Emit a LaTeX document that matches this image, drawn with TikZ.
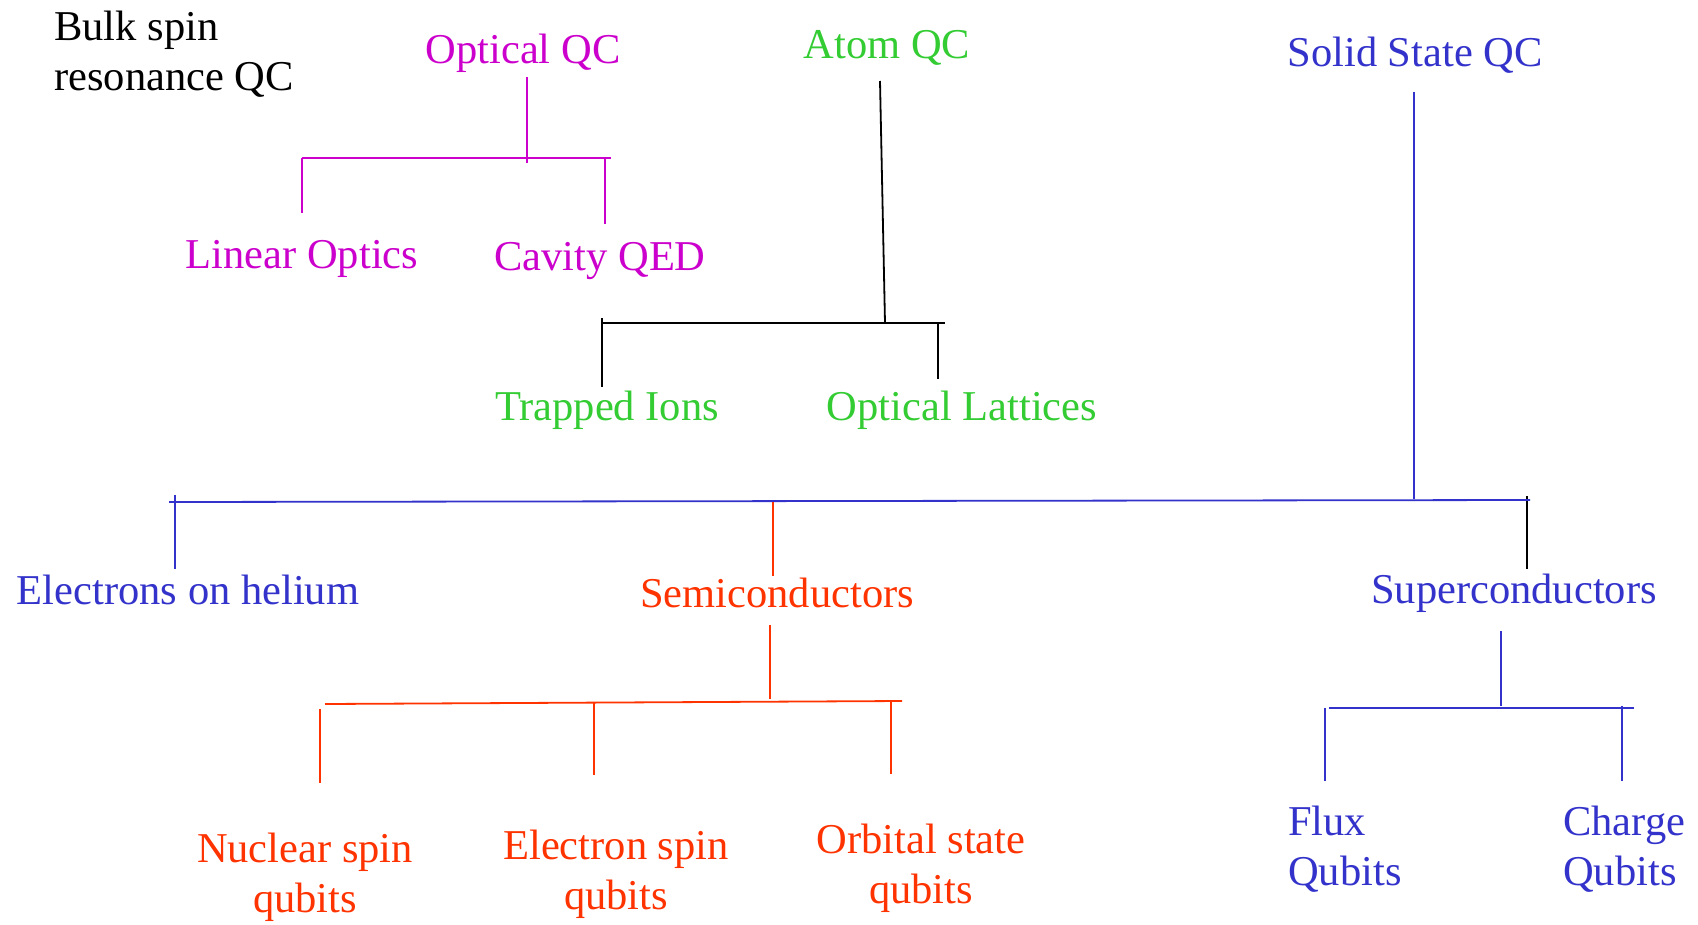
\documentclass[tikz,border=0pt]{standalone}
\usepackage{fontspec}
\setmainfont{Liberation Serif}
\definecolor{qmag}{RGB}{204,0,204}
\definecolor{qgreen}{RGB}{51,204,51}
\definecolor{qblue}{RGB}{51,51,204}
\definecolor{qred}{RGB}{255,51,0}
\newcommand{\twoC}[2]{\vtop{\baselineskip=50pt\lineskiplimit=-100pt\halign{\hfil##\hfil\cr#1\cr#2\cr}}}
\newcommand{\twoL}[2]{\vtop{\baselineskip=50pt\lineskiplimit=-100pt\halign{##\hfil\cr#1\cr#2\cr}}}
\begin{document}
\begin{tikzpicture}[x=1pt,y=-1pt,
  lbl/.style={inner sep=0pt, font=\fontsize{42.5}{50}\selectfont},
  ln/.style={line width=1.8pt}]
\useasboundingbox (0,0) rectangle (1698,924);
\fill[white] (0,0) rectangle (1698,924);

% labels
\node[lbl, anchor=base west] (bulk) at (54,40) {\twoL{Bulk spin}{resonance QC}};
\node[lbl, anchor=base, text=qmag] (optical) at (523,63) {Optical QC};
\node[lbl, anchor=base, text=qmag] (linear) at (302,268) {Linear Optics};
\node[lbl, anchor=base, text=qmag] (cavity) at (600,270) {Cavity QED};
\node[lbl, anchor=base, text=qgreen] (atom) at (887,58) {Atom QC};
\node[lbl, anchor=base, text=qgreen] (trapped) at (607,420) {Trapped Ions};
\node[lbl, anchor=base, text=qgreen] (lattice) at (962,420) {Optical Lattices};
\node[lbl, anchor=base, text=qblue] (solid) at (1415,66) {Solid State QC};
\node[lbl, anchor=base, text=qblue] (helium) at (188,604) {Electrons on helium};
\node[lbl, anchor=base, text=qred] (semi) at (777,607) {Semiconductors};
\node[lbl, anchor=base, text=qblue] (super) at (1514,603) {Superconductors};
\node[lbl, anchor=base, text=qred] (nuclear) at (305,862) {\twoC{Nuclear spin}{qubits}};
\node[lbl, anchor=base, text=qred] (electron) at (616,859) {\twoC{Electron spin}{qubits}};
\node[lbl, anchor=base, text=qred] (orbital) at (921,853) {\twoC{Orbital state}{qubits}};
\node[lbl, anchor=base west, text=qblue] (flux) at (1288,835) {\twoL{Flux}{Qubits}};
\node[lbl, anchor=base west, text=qblue] (charge) at (1563,835) {\twoL{Charge}{Qubits}};

% junction coordinates
\coordinate (oqT) at (527,77);   \coordinate (oqB) at (527,163);
\coordinate (obL) at (302,158);  \coordinate (obR) at (611,158);
\coordinate (olB) at (302,213);
\coordinate (ocT) at (605,158);  \coordinate (ocB) at (605,224);

\coordinate (aqT) at (880,81);   \coordinate (aqB) at (885,323);
\coordinate (abL) at (601,323);  \coordinate (abR) at (945,323);
\coordinate (atT) at (602,318);  \coordinate (atB) at (602,387);
\coordinate (alT) at (938,323);  \coordinate (alB) at (938,379);

\coordinate (sqT) at (1414,92);  \coordinate (sqB) at (1414,499);
\coordinate (sbL) at (169,502);  \coordinate (sbR) at (1530,500);
\coordinate (shT) at (175,495);  \coordinate (shB) at (175,569);
\coordinate (ssT) at (1527,496); \coordinate (ssB) at (1527,569);
\coordinate (smT) at (773,502);  \coordinate (smB) at (773,576);

\coordinate (scT) at (770,625);  \coordinate (scB) at (770,699);
\coordinate (rbL) at (325,704);  \coordinate (rbR) at (902,701);
\coordinate (rnT) at (320,709);  \coordinate (rnB) at (320,783);
\coordinate (reT) at (594,702);  \coordinate (reB) at (594,775);
\coordinate (roT) at (891,700);  \coordinate (roB) at (891,774);

\coordinate (upT) at (1501,631); \coordinate (upB) at (1501,706);
\coordinate (ubL) at (1329,708); \coordinate (ubR) at (1634,708);
\coordinate (ufT) at (1325,708); \coordinate (ufB) at (1325,781);
\coordinate (ucT) at (1622,706); \coordinate (ucB) at (1622,781);

% connectors
\begin{scope}[ln, draw=qmag, line width=1.5pt]
\draw (oqT) -- (oqB);
\draw (obL) -- (obR);
\draw (obL) -- (olB);
\draw (ocT) -- (ocB);
\end{scope}
\begin{scope}[ln, draw=black]
\draw (aqT) -- (aqB);
\draw (abL) -- (abR);
\draw (atT) -- (atB);
\draw (alT) -- (alB);
\draw (ssT) -- (ssB);
\end{scope}
\begin{scope}[ln, draw=qblue]
\draw (sqT) -- (sqB);
\draw (sbL) -- (sbR);
\draw (shT) -- (shB);
\draw (upT) -- (upB);
\draw (ubL) -- (ubR);
\draw (ufT) -- (ufB);
\draw (ucT) -- (ucB);
\end{scope}
\begin{scope}[ln, draw=qred]
\draw (smT) -- (smB);
\draw (scT) -- (scB);
\draw (rbL) -- (rbR);
\draw (rnT) -- (rnB);
\draw (reT) -- (reB);
\draw (roT) -- (roB);
\end{scope}
\end{tikzpicture}
\end{document}
